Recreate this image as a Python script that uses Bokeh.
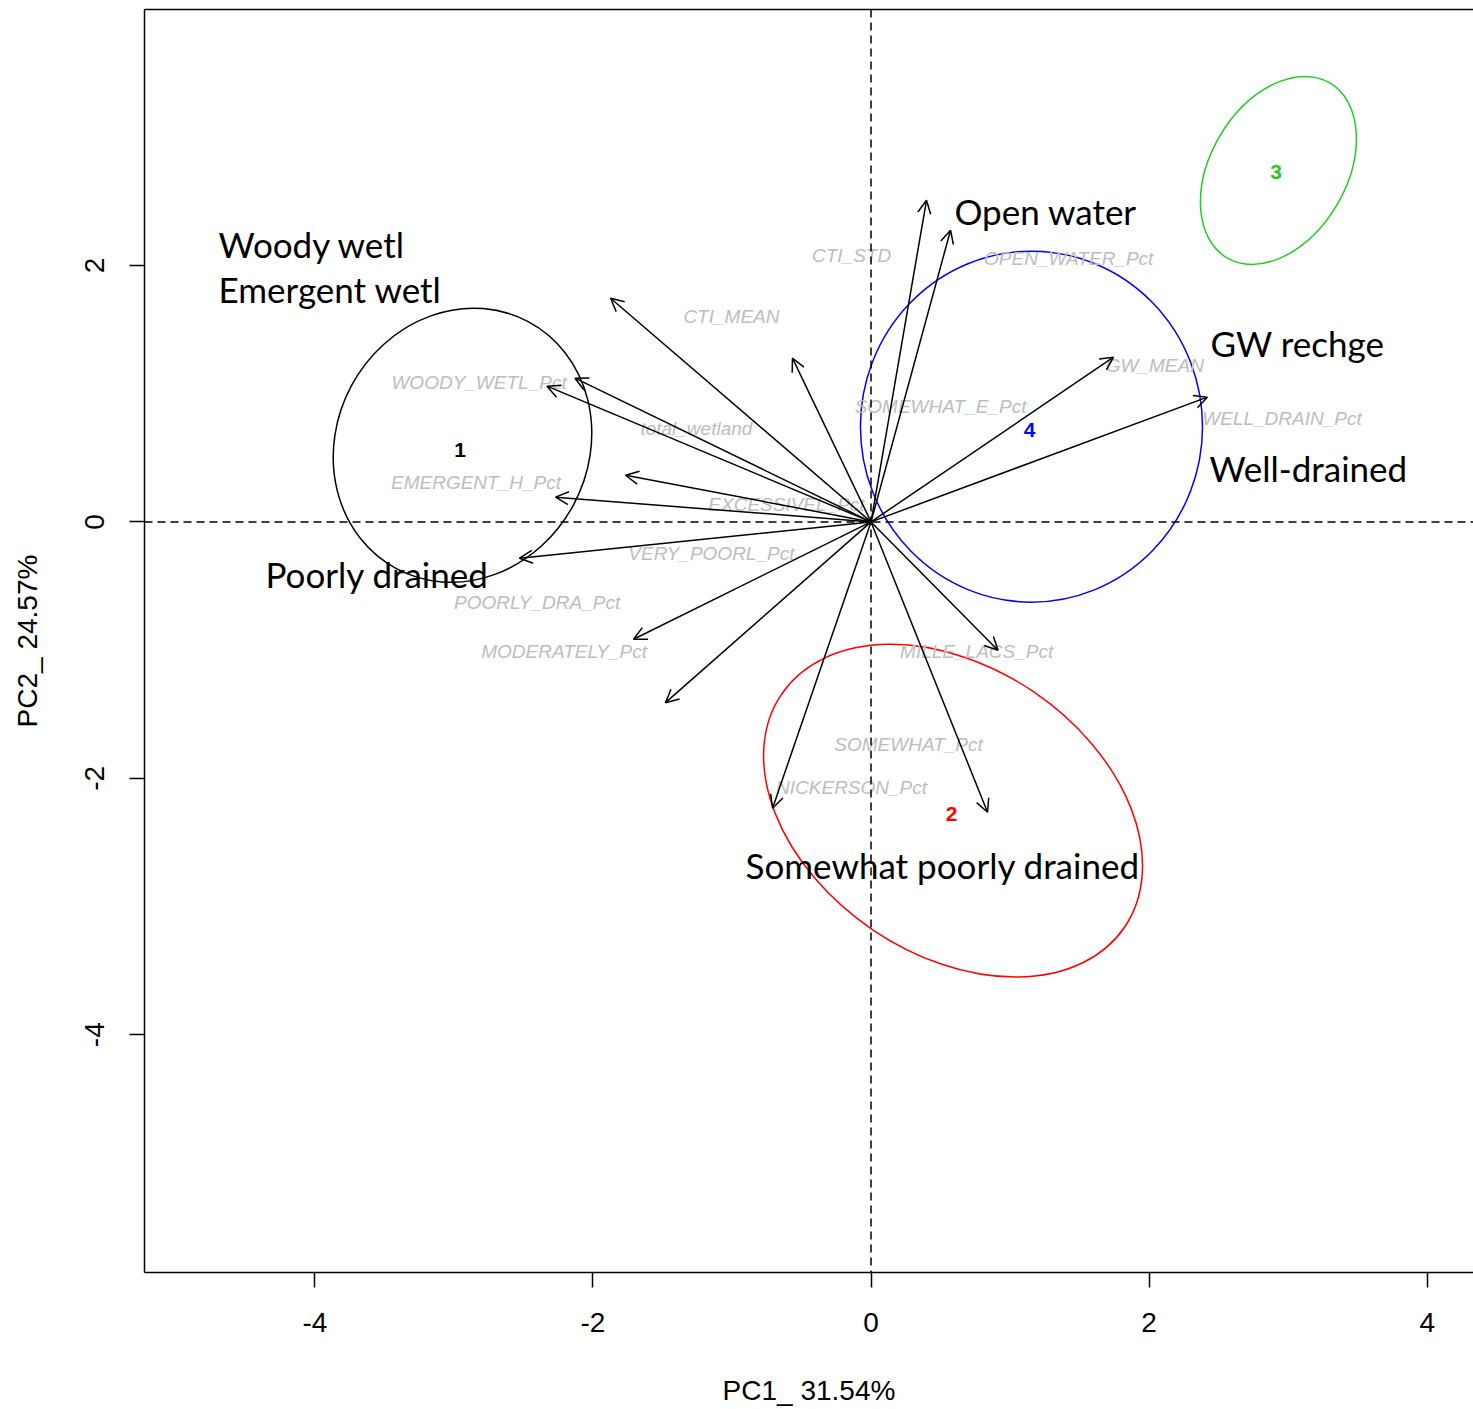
from bokeh.plotting import figure
from bokeh.models import (ColumnDataSource, Arrow, OpenHead, Span, FixedTicker,
                          PrintfTickFormatter, LinearAxis, BoxAnnotation)
from bokeh.embed import file_html
from bokeh.resources import INLINE
from bokeh.core.properties import value

# ---- variable loadings (arrow tips) ----
var_names = ["OPEN_WATER_Pct", "CTI_STD", "CTI_MEAN", "GW_MEAN", "WOODY_WETL_Pct",
             "SOMEWHAT_E_Pct", "WELL_DRAIN_Pct", "total_wetland", "EMERGENT_H_Pct",
             "EXCESSIVEL_Pct", "VERY_POORL_Pct", "POORLY_DRA_Pct", "MODERATELY_Pct",
             "MILLE_LACS_Pct", "SOMEWHAT_Pct", "NICKERSON_Pct"]
arrow_pc1 = [0.399, 0.572, -1.873, -0.565, -2.129, -2.330, -1.765, -2.269,
             -2.528, -1.708, -1.478, -0.708, 0.838, 0.913, 1.744, 2.419]
arrow_pc2 = [2.509, 2.275, 1.745, 1.277, 1.121, 1.059, 0.364, 0.193,
             -0.283, -0.915, -1.410, -2.233, -2.265, -1.001, 1.285, 0.973]

# ---- positions of the variable name texts ----
label_pc1 = [1.422, -0.140, -1.004, 2.041, -2.819, 0.500, 2.956, -1.256,
             -2.841, -0.608, -1.148, -2.401, -2.207, 0.760, 0.270, -0.140]
label_pc2 = [2.055, 2.078, 1.602, 1.219, 1.086, 0.898, 0.805, 0.727,
             0.305, 0.133, -0.250, -0.625, -1.008, -1.008, -1.733, -2.070]

# ---- clusters ----
cluster_ids = ["1", "2", "3", "4"]
cluster_colors = ["black", "red", "#22cc22", "blue"]
cluster_pc1 = [-2.956, 0.580, 2.913, 1.141]
cluster_pc2 = [0.562, -2.281, 2.727, 0.719]
ellipse_pc1 = [-2.938, 0.590, 2.930, 1.154]
ellipse_pc2 = [0.598, -2.253, 2.742, 0.743]
ellipse_w = [2.014, 2.982, 1.460, 2.460]
ellipse_h = [1.966, 2.242, 1.061, 2.738]
ellipse_angle = [61.8, -34.2, 59.5, 0.0]

# ---- annotation texts ----
note_text = ["Woody wetl", "Emergent wetl", "Open water", "GW rechge",
             "Well-drained", "Poorly drained", "Somewhat poorly drained"]
note_pc1 = [-4.692, -4.692, 0.600, 2.442, 2.434, -4.355, -0.902]
note_pc2 = [2.170, 1.819, 2.424, 1.394, 0.423, -0.404, -2.674]

x_ticks = [-4, -2, 0, 2, 4]
y_ticks = [-4, -2, 0, 2]

p = figure(width=1473, height=1409, x_range=(-5.225, 4.333), y_range=(-5.855, 3.997),
           output_backend="svg", toolbar_location=None,
           min_border_left=144, min_border_right=0, min_border_top=9, min_border_bottom=137)
p.grid.visible = False
p.outline_line_color = None
p.background_fill_color = "white"
p.border_fill_color = "white"

for ax in (p.xaxis[0], p.yaxis[0]):
    ax.axis_line_color = "black"
    ax.axis_line_width = 1.5
    ax.minor_tick_line_color = None
    ax.major_tick_in = 0
    ax.major_tick_out = 15
    ax.major_tick_line_width = 1.5
    ax.major_tick_line_color = "black"
    ax.major_label_text_font = "Liberation Sans"
    ax.major_label_text_font_size = "28px"
    ax.major_label_text_color = "black"
    ax.major_label_standoff = 25
    ax.axis_label_text_font = "Liberation Sans"
    ax.axis_label_text_font_size = "28px"
    ax.axis_label_text_font_style = "normal"
    ax.axis_label_text_color = "black"
    ax.formatter = PrintfTickFormatter(format="%d")

p.xaxis.ticker = FixedTicker(ticks=x_ticks)
p.yaxis.ticker = FixedTicker(ticks=y_ticks)
p.yaxis.major_label_orientation = "vertical"
p.xaxis.axis_label = "PC1_ 31.54%"
p.yaxis.axis_label = "PC2_ 24.57%"
p.xaxis.axis_label_standoff = 40
p.yaxis.axis_label_standoff = 40

# top edge of the box (the right edge is cut off in the original)
top_axis = LinearAxis(ticker=FixedTicker(ticks=[]), axis_line_color="black", axis_line_width=1.5,
                      major_tick_line_color=None, minor_tick_line_color=None,
                      major_label_text_font_size="0px")
p.add_layout(top_axis, "above")

# slide background strip at the far left
p.add_layout(BoxAnnotation(left=0, right=7, top=0, bottom=1409,
                           left_units="canvas", right_units="canvas",
                           top_units="canvas", bottom_units="canvas",
                           fill_color="#efece4", fill_alpha=1.0, line_color=None))

# dashed reference lines
p.add_layout(Span(location=0, dimension="width", line_color="black", line_width=1.5, line_dash="8 5"))
p.add_layout(Span(location=0, dimension="height", line_color="black", line_width=1.5, line_dash="8 5"))

# cluster ellipses
ell_src = ColumnDataSource(dict(x=ellipse_pc1, y=ellipse_pc2, w=ellipse_w, h=ellipse_h,
                                a=ellipse_angle, c=cluster_colors))
p.ellipse(x="x", y="y", width="w", height="h", angle="a", angle_units="deg",
          fill_color=None, line_color="c", line_width=1.5, source=ell_src)

# variable labels (grey italic)
lab_src = ColumnDataSource(dict(x=label_pc1, y=label_pc2, t=var_names))
p.text(x="x", y="y", text="t", source=lab_src, text_font=value("Liberation Sans"),
       text_font_style="italic", text_font_size="19px", text_color="#bdbdbd",
       text_align="center", text_baseline="middle")

# arrows
arr_src = ColumnDataSource(dict(x0=[0.0] * len(arrow_pc1), y0=[0.0] * len(arrow_pc1),
                                x1=arrow_pc1, y1=arrow_pc2))
p.add_layout(Arrow(x_start="x0", y_start="y0", x_end="x1", y_end="y1", source=arr_src,
                   line_color="black", line_width=1.5,
                   end=OpenHead(size=13, line_color="black", line_width=1.5)))

# cluster numbers
cl_src = ColumnDataSource(dict(x=cluster_pc1, y=cluster_pc2, t=cluster_ids, c=cluster_colors))
p.text(x="x", y="y", text="t", text_color="c", source=cl_src, text_font=value("Liberation Sans"),
       text_font_style="bold", text_font_size="21px", text_align="center", text_baseline="middle")

# annotations
note_src = ColumnDataSource(dict(x=note_pc1, y=note_pc2, t=note_text))
p.text(x="x", y="y", text="t", source=note_src, text_font=value("Lato"),
       text_font_size="35px", text_color="black", text_align="left",
       text_baseline="middle")

open("out.html", "w").write(file_html(p, INLINE))
